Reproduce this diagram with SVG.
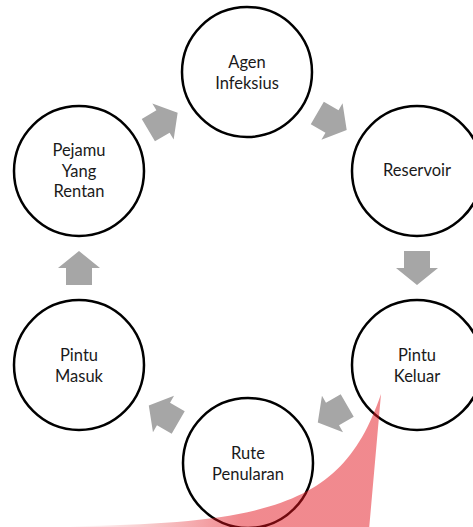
<svg xmlns="http://www.w3.org/2000/svg" width="473" height="527" viewBox="0 0 473 527">
<style>
.node circle{fill:#fff;stroke:#000;stroke-width:2.5}
.node text{font-family:Lato,"Open Sans",sans-serif;font-size:16.5px;fill:#1a1a1a;text-anchor:middle}
.arr{fill:#a6a6a6}
</style>
<defs>
<path id="ar" d="M-17,-13 L0,-13 L0,-21 L17,0 L0,21 L0,13 L-17,13 Z"/>
<linearGradient id="rg" gradientUnits="userSpaceOnUse" x1="70" y1="0" x2="240" y2="0">
<stop offset="0" stop-color="#e3141e" stop-opacity="0"/>
<stop offset="1" stop-color="#e3141e" stop-opacity="0.5"/>
</linearGradient>
</defs>
<rect width="473" height="527" fill="#fff"/>
<g id="connectors">
<use href="#ar" class="arr" transform="translate(163,121.5) rotate(-30.5)"/>
<use href="#ar" class="arr" transform="translate(332,121.5) rotate(30.2)"/>
<use href="#ar" class="arr" transform="translate(417,268) rotate(90)"/>
<use href="#ar" class="arr" transform="translate(332.5,414) rotate(149.9)"/>
<use href="#ar" class="arr" transform="translate(163.5,414) rotate(210.1)"/>
<use href="#ar" class="arr" transform="translate(79,268) rotate(-90)"/>
</g>
<g id="agen" class="node"><circle cx="247" cy="72" r="65"/><text x="247" y="68">Agen</text><text x="247" y="88.5">Infeksius</text></g>
<g id="reservoir" class="node"><circle cx="417" cy="171" r="65"/><text x="417" y="176">Reservoir</text></g>
<g id="keluar" class="node"><circle cx="417" cy="365" r="65"/><text x="417" y="361">Pintu</text><text x="417" y="381.5">Keluar</text></g>
<g id="rute" class="node"><circle cx="248" cy="463" r="65"/><text x="248" y="459">Rute</text><text x="248" y="479.5">Penularan</text></g>
<g id="masuk" class="node"><circle cx="79" cy="365" r="65"/><text x="79" y="361">Pintu</text><text x="79" y="381.5">Masuk</text></g>
<g id="pejamu" class="node"><circle cx="79" cy="171" r="65"/><text x="79" y="156">Pejamu</text><text x="79" y="176.5">Yang</text><text x="79" y="197">Rentan</text></g>
<path d="M381,394 C345,500 280,524 70,526 L70,530 L369,530 Z" fill="url(#rg)"/>
</svg>
